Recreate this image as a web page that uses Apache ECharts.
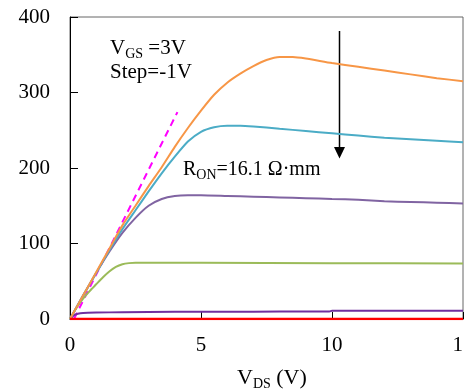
<!DOCTYPE html>
<html><head><meta charset="utf-8">
<script src="https://cdn.jsdelivr.net/npm/echarts@6/dist/echarts.min.js"></script>
<style>html,body{margin:0;padding:0;background:#fff}#c{width:464px;height:392px}</style>
</head><body><div id="c"></div>
<script>
// Output characteristics I_DS (mA/mm) vs V_DS (V), VGS = 3V ... -2V, step -1V
const xTicks = [0, 5, 10, 15];
const yTicks = [0, 100, 200, 300, 400];

const vds3 = [0,0.5,1,1.5,2,2.5,3,3.5,4,4.5,5,5.5,6,6.5,7,7.5,8,8.5,9,10,11,12,13,14,15];
const ids3 = [0,31,62,93,124,150,176,201,228,253,276,297,313,325,335,343,347,347,345,339,334,329,324,319,315];

const vds2 = [0,0.5,1,1.5,2,2.5,3,3.5,4,4.5,5,5.5,6,6.5,7,8,9,10,11,12,13,14,15];
const ids2 = [0,31,61,91,119,144,169,193,215,235,248,254,256,256,255,252,249,246,243,240,238,236,234];

const vds1 = [0,0.5,1,1.5,2,2.5,3,3.5,4,4.5,5,6,7,8,9,10,11,12,13,14,15];
const ids1 = [0,31,61,89,114,134,150,159,163,164,164,163,162,161,160,159,158,156,155,154,153];

const vds0 = [0,0.25,0.5,0.75,1,1.25,1.5,1.75,2,2.25,2.5,3,5,10,15];
const ids0 = [0,15,27,37,46,55,63,69,72.5,74,74.5,74.5,74.5,74,73.5];

const vdsM1 = [0,0.15,0.3,0.5,1,2,4,6,8,9.9,10,12,15];
const idsM1 = [0,5,7,8,8.5,9,9.5,9.5,10,10,11,11,11];

const vdsM2 = [0,15];
const idsM2 = [0,0];

const fitV = [0.15,4.1];
const fitI = [0,274];

const zip = (a,b) => a.map((v,i)=>[v,b[i]]);
const FONT = 'Liberation Serif';

const chart = echarts.init(document.getElementById('c'), null, {renderer:'canvas'});

function line(name, xs, ys, color, width, extra) {
  return Object.assign({
    name, type:'line', data: zip(xs, ys), showSymbol:false, symbol:'none',
    smooth:0.2, lineStyle:{color, width}, itemStyle:{color}, silent:true, animation:false
  }, extra||{});
}
const tickRich = {t:{fontFamily:FONT, fontSize:21, color:'#000', fill:'#000'}};

chart.setOption({
  backgroundColor:'#fff',
  animation:false,
  textStyle:{fontFamily:FONT, color:'#000'},
  grid:{left:70, top:17, right:1, bottom:73, containLabel:false, outerBoundsMode:'none',
        show:true, borderColor:'#666', borderWidth:1, backgroundColor:'transparent'},
  xAxis:{
    type:'value', min:xTicks[0], max:xTicks[xTicks.length-1], interval:5,
    axisLine:{show:true, onZero:false, lineStyle:{color:'#000', width:1}},
    axisTick:{show:true, inside:true, length:7, lineStyle:{color:'#000'}},
    axisLabel:{margin:16, color:'#000', fontSize:21, fontFamily:FONT, showMaxLabel:true, hideOverlap:false,
      formatter: v => '{t|' + v + '}', rich: tickRich},
    splitLine:{show:false}
  },
  yAxis:{
    type:'value', min:yTicks[0], max:yTicks[yTicks.length-1], interval:100,
    axisLine:{show:true, onZero:false, lineStyle:{color:'#000', width:1}},
    axisTick:{show:true, inside:true, length:8, lineStyle:{color:'#000'}},
    axisLabel:{margin:20, color:'#000', fontSize:21, fontFamily:FONT,
      formatter: v => '{t|' + v + '}', rich: tickRich},
    splitLine:{show:false}
  },
  series:[
    line('fit', fitV, fitI, '#ff00ff', 2, {smooth:false, lineStyle:{color:'#ff00ff', width:2, type:[7,5]}}),
    line('VGS=1V', vds1, ids1, '#8064a2', 2),
    line('VGS=0V', vds0, ids0, '#9bbb59', 2),
    line('VGS=-1V', vdsM1, idsM1, '#7030a0', 2),
    line('VGS=2V', vds2, ids2, '#4bacc6', 2),
    line('VGS=3V', vds3, ids3, '#f79646', 2),
    line('VGS=-2V', vdsM2, idsM2, '#ff0000', 2.5, {smooth:false})
  ],
  graphic:[
    {type:'text', left:110, top:38, silent:true, style:{
      text:'{m|V}{s|GS}{m| =3V}',
      rich:{
        m:{fontSize:21, fontFamily:FONT, fill:'#000', lineHeight:21, padding:[0,0,2,0], verticalAlign:'bottom'},
        s:{fontSize:14, fontFamily:FONT, fill:'#000', lineHeight:14, verticalAlign:'bottom'}
      }}},
    {type:'text', left:110, top:62, silent:true, style:{
      text:'Step=-1V', fontSize:21, fontFamily:FONT, fill:'#000'}},
    {type:'text', left:183, top:160, silent:true, style:{
      text:'{m|R}{s|ON}{m|=16.1 Ω·mm}',
      rich:{
        m:{fontSize:20, fontFamily:FONT, fill:'#000', lineHeight:20, padding:[0,0,2,0], verticalAlign:'bottom'},
        s:{fontSize:14, fontFamily:FONT, fill:'#000', lineHeight:14, verticalAlign:'bottom'}
      }}},
    {type:'text', left:237, top:367, silent:true, style:{
      text:'{m|V}{s|DS}{m| (V)}',
      rich:{
        m:{fontSize:22, fontFamily:FONT, fill:'#000', lineHeight:22, padding:[0,0,2,0], verticalAlign:'bottom'},
        s:{fontSize:14, fontFamily:FONT, fill:'#000', lineHeight:14, verticalAlign:'bottom'}
      }}},
    {type:'line', silent:true, shape:{x1:339.5, y1:31, x2:339.5, y2:149}, style:{stroke:'#000', lineWidth:1.5}},
    {type:'polygon', silent:true, shape:{points:[[334,147],[345,147],[339.5,158.5]]}, style:{fill:'#000'}}
  ]
});
</script>
</body></html>
